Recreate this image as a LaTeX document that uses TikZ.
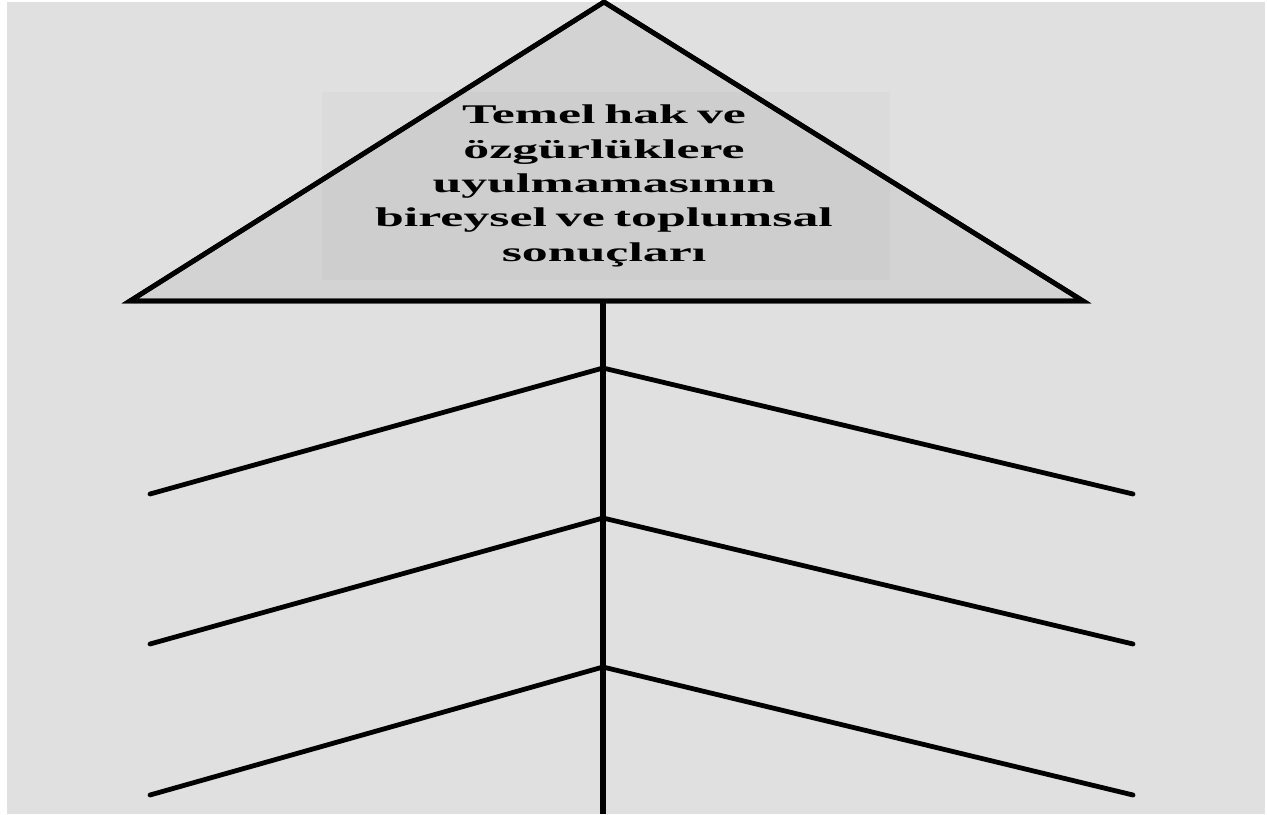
\documentclass[tikz,border=0pt]{standalone}
\usepackage{fontspec}
\setmainfont{Liberation Serif}
\newfontfamily\headfont[FakeStretch=1.92]{Liberation Serif}
\usepackage{tikz}
\usetikzlibrary{positioning}
\definecolor{bggray}{HTML}{E0E0E0}
\definecolor{headgray}{HTML}{D3D3D3}

\begin{document}
\begin{tikzpicture}[x=0.5pt, y=-0.5pt, line join=miter,
    bone/.style={line width=2.4pt},
    spine/.style={line width=3.4pt},
    headtext/.style={font=\headfont\bfseries\fontsize{13.5}{17.2}\selectfont, align=center, text width=280pt}]
                % background and margins
                \fill[white] (0,0) rectangle (1267,814);
                \fill[bggray] (7,2) rectangle (1265,814);
                \useasboundingbox (0,0) rectangle (1267,814);

                % head of the fish
                \coordinate (apex) at (604,2);
                \coordinate (baseL) at (130,301);
                \coordinate (baseR) at (1083,301);
                \draw[bone, fill=headgray] (apex) -- (baseR) -- (baseL) -- cycle;
                \fill[black, opacity=0.02] (322,92) rectangle (890,280);
                \node[headtext] (head) at (604,186) {Temel hak ve\\ özgürlüklere\\ uyulmamasının\\ bireysel ve toplumsal\\ sonuçları};
                \draw[bone] (apex) -- (baseR) -- (baseL) -- cycle;

                % spine and bones
                \coordinate (top) at (603,301);
                \coordinate (tail) at (603,814);
                \draw[spine] (top) -- (tail);
                \foreach \j/\e [count=\i] in {368/494, 518/644, 667/795} {
                    \coordinate (j\i) at (603,\j);
                    \coordinate (l\i) at (150,\e);
                    \coordinate (r\i) at (1133,\e);
                    \draw[bone, line cap=round] (l\i) -- (j\i) -- (r\i);
                }
            \end{tikzpicture}
\end{document}
